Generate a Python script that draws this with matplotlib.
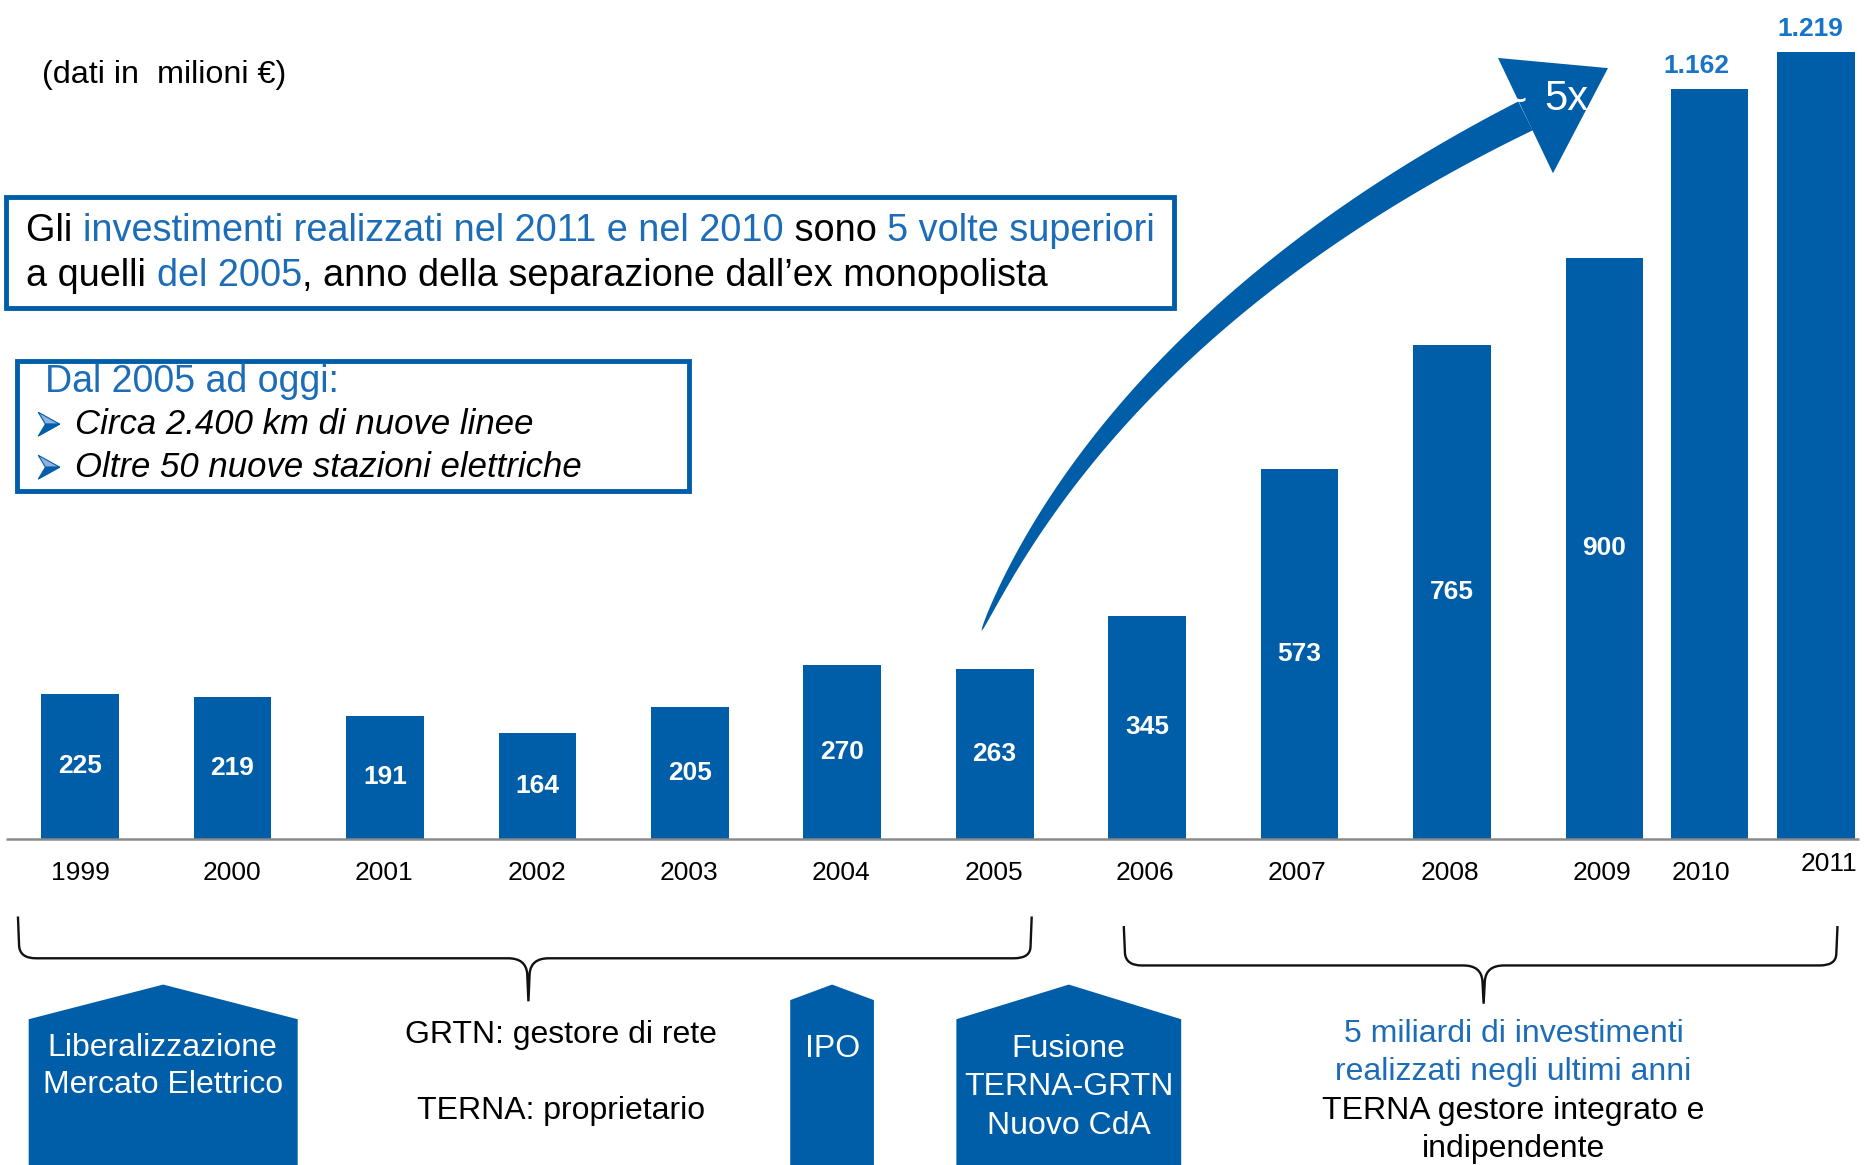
import numpy as np
import matplotlib
matplotlib.use('Agg')
import matplotlib.pyplot as plt
from matplotlib.patches import Rectangle, Polygon, PathPatch
from matplotlib.path import Path

plt.rcParams['font.family'] = ['Liberation Sans', 'DejaVu Sans']

# data (milioni di euro)
years = ['1999', '2000', '2001', '2002', '2003', '2004', '2005',
         '2006', '2007', '2008', '2009', '2010', '2011']
invest = [225, 219, 191, 164, 205, 270, 263, 345, 573, 765, 900, 1162, 1219]

# layout of bars / labels (last two bars sit closer together in the original)
bar_pos = [0, 1, 2, 3, 4, 5, 6, 7, 8, 9, 10, 10.69, 11.39]
label_x = [67, 194, 321, 449, 576, 703, 831, 958, 1085, 1213, 1340, 1423, 1530]
label_y = [731] * 12 + [723]
top_dx = {11: -9.5, 12: -4.3}   # value labels above the last two bars are a bit off-centre

BLUE = '#005DA8'
BLUE_TXT = '#1C6CB8'
BLUE_LBL = '#1874C8'
BLACK = '#000000'

W, H = 1560, 975   # overlay coordinate system (y goes down)

fig = plt.figure(figsize=(18.65, 11.65), dpi=100)
ax = fig.add_axes([0, 0, 1, 1])
ax.axis('off')
ov = fig.add_axes([0, 0, 1, 1], zorder=3)
ov.set_xlim(0, W)
ov.set_ylim(H, 0)
ov.axis('off')
ov.patch.set_alpha(0)

# bars
ax.bar(bar_pos, invest, width=0.51, color=BLUE, zorder=2)
ax.set_xlim(-67 / 127.5, (W - 67) / 127.5)
ax.set_ylim(-505.6, 1300)

def fmt(v):
    return f'{v:,}'.replace(',', '.')

for i, (p, v) in enumerate(zip(bar_pos, invest)):
    if v < 1000:
        ax.text(p, v / 2, fmt(v), ha='center', va='center', color='white',
                fontsize=19, fontweight='bold', zorder=3)
    else:
        ax.annotate(fmt(v), (p, v), xytext=(top_dx.get(i, 0), 8), textcoords='offset points',
                    ha='center', va='bottom', color=BLUE_LBL,
                    fontsize=19, fontweight='bold')

ov.plot([5, 1555], [702, 702], color='#8a8a8a', lw=1.8, solid_capstyle='butt')
for yr, lx, ly in zip(years, label_x, label_y):
    ov.text(lx, ly, yr, ha='center', va='center', fontsize=19, color=BLACK)

ov.text(35, 63, '(dati in  milioni \u20ac)', ha='left', va='center', fontsize=23.3)

# helper for multi-colour lines
renderer = fig.canvas.get_renderer()
px_per_unit = fig.bbox.width / W

def width_of(s, **kw):
    if not s:
        return 0.0
    t1 = ov.text(0, 0, s + '|', **kw)
    t2 = ov.text(0, 0, '|', **kw)
    w = t1.get_window_extent(renderer).width - t2.get_window_extent(renderer).width
    t1.remove()
    t2.remove()
    return w / px_per_unit

def put_parts(x, y, parts, **kw):
    done = ''
    for s, c in parts:
        ov.text(x + width_of(done, **kw), y, s, color=c, ha='left', va='center', **kw)
        done += s

# box 1
ov.add_patch(Rectangle((5, 165), 977, 93, fill=False, ec=BLUE, lw=3.5))
put_parts(22, 193, [('Gli ', BLACK),
                    ('investimenti realizzati nel 2011 e nel 2010', BLUE_TXT),
                    (' sono ', BLACK),
                    ('5 volte superiori', BLUE_TXT)], fontsize=27.3)
put_parts(22, 231, [('a quelli ', BLACK),
                    ('del 2005', BLUE_TXT),
                    (', anno della separazione dall\u2019ex monopolista', BLACK)], fontsize=27.3)

# box 2
ov.add_patch(Rectangle((14, 302), 562, 109, fill=False, ec=BLUE, lw=3.5))
ov.text(38, 320, 'Dal 2005 ad oggi:', color=BLUE_TXT, fontsize=27, va='center')
for yy, s in [(355, 'Circa 2.400 km di nuove linee'),
              (391, 'Oltre 50 nuove stazioni elettriche')]:
    # arrowhead bullet, lighter upper face and darker lower face
    ov.add_patch(Polygon([(32, yy - 10), (50, yy), (38, yy)], closed=True,
                         fc='#8FB2E0', ec=BLUE, lw=0.8))
    ov.add_patch(Polygon([(38, yy), (50, yy), (32, yy + 10)], closed=True,
                         fc=BLUE, ec=BLUE, lw=0.8))
    ov.text(63, yy, s, color=BLACK, fontsize=25, style='italic', va='center')

# curved arrow
P0 = np.array([821, 528]); P1 = np.array([908, 335])
P2 = np.array([1085, 192]); P3 = np.array([1276, 97])
t = np.linspace(0, 1, 300)[:, None]
B = (1 - t) ** 3 * P0 + 3 * (1 - t) ** 2 * t * P1 + 3 * (1 - t) * t ** 2 * P2 + t ** 3 * P3
dB = 3 * (1 - t) ** 2 * (P1 - P0) + 6 * (1 - t) * t * (P2 - P1) + 3 * t ** 2 * (P3 - P2)
nrm = np.column_stack([-dB[:, 1], dB[:, 0]]) / np.linalg.norm(dB, axis=1)[:, None]
hw = 13.5 * t ** 0.55
body = np.vstack([B + nrm * hw, (B - nrm * hw)[::-1]])
ov.add_patch(Polygon(body, closed=True, fc=BLUE, ec='none'))
ov.add_patch(Polygon([(1253, 48.5), (1345, 57), (1299, 145)], closed=True, fc=BLUE, ec='none'))
ov.text(1267, 86, '~', color='white', fontsize=30, ha='center', va='center')
ov.text(1292, 83, '5x', color='white', fontsize=30, ha='left', va='center')

# braces
def brace(x0, x1, xm, ytop, yh, ytip):
    verts = [(x0, ytop), (x0 + 1, yh - 10), (x0 + 2, yh), (x0 + 15, yh),
             (xm - 17, yh), (xm - 2, yh), (xm - 1, yh + 13), (xm, ytip),
             (xm + 1, yh + 13), (xm + 2, yh), (xm + 17, yh),
             (x1 - 15, yh), (x1 - 1, yh), (x1 - 1, yh - 10), (x1, ytop)]
    codes = [Path.MOVETO, Path.LINETO, Path.CURVE3, Path.CURVE3,
             Path.LINETO, Path.CURVE3, Path.CURVE3, Path.LINETO,
             Path.LINETO, Path.CURVE3, Path.CURVE3,
             Path.LINETO, Path.CURVE3, Path.CURVE3, Path.LINETO]
    ov.add_patch(PathPatch(Path(verts, codes), fill=False, ec='#111111', lw=1.7))

brace(15, 863, 442, 767, 802, 838)
brace(940, 1537, 1241, 775, 808, 840)

# house shapes
houses = [(24, 249, 853), (661, 731, 837), (800, 988, 853)]
for xl, xr, ys in houses:
    ov.add_patch(Polygon([(xl, 990), (xl, ys), ((xl + xr) / 2, 824), (xr, ys), (xr, 990)],
                         closed=True, fc=BLUE, ec='none'))

for yy, s in [(877, 'Liberalizzazione'), (908, 'Mercato Elettrico')]:
    ov.text(136, yy, s, color='white', fontsize=23, ha='center', va='center')
ov.text(696, 878, 'IPO', color='white', fontsize=23, ha='center', va='center')
for yy, s in [(878, 'Fusione'), (910, 'TERNA-GRTN'), (942, 'Nuovo CdA')]:
    ov.text(894, yy, s, color='white', fontsize=23, ha='center', va='center')

ov.text(469, 866, 'GRTN: gestore di rete', fontsize=23, ha='center', va='center')
ov.text(469, 930, 'TERNA: proprietario', fontsize=23, ha='center', va='center')

for yy, s, c in [(865, '5 miliardi di investimenti', BLUE_TXT),
                 (897, 'realizzati negli ultimi anni', BLUE_TXT),
                 (930, 'TERNA gestore integrato e', BLACK),
                 (962, 'indipendente', BLACK)]:
    ov.text(1266, yy, s, color=c, fontsize=23, ha='center', va='center')

fig.savefig('out.png', dpi=100)
